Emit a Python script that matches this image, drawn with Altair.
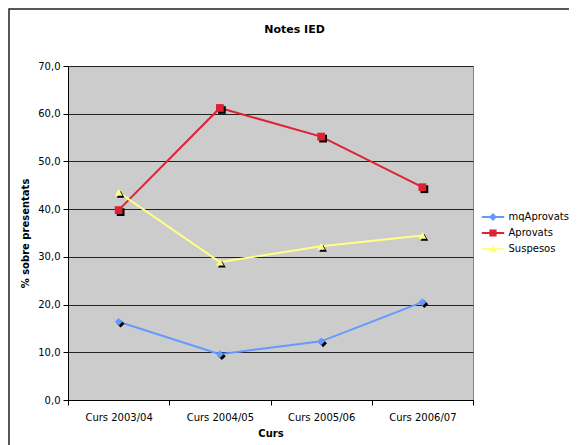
import altair as alt
import pandas as pd

courses = ["Curs 2003/04", "Curs 2004/05", "Curs 2005/06", "Curs 2006/07"]
series = ["mqAprovats", "Aprovats", "Suspesos"]
mq_aprovats = [16.4, 9.6, 12.3, 20.5]
aprovats = [39.8, 61.2, 55.2, 44.6]
suspesos = [43.5, 28.9, 32.2, 34.5]
colors = ["#6699FF", "#DD2233", "#FFFF88"]
shapes = ["diamond", "square", "triangle-up"]

rows = []
for name, vals in zip(series, [mq_aprovats, aprovats, suspesos]):
    for c, v in zip(courses, vals):
        rows.append({"Curs": c, "serie": name, "valor": v})
df = pd.DataFrame(rows)

# legend symbols: a short line with a marker on it
leg_paths = [
    "M-1.4,-0.12H1.4V0.12H-1.4Z M0,-0.5L0.5,0L0,0.5L-0.5,0Z",
    "M-1.4,-0.12H1.4V0.12H-1.4Z M-0.45,-0.45H0.45V0.45H-0.45Z",
    "M-1.4,-0.12H1.4V0.12H-1.4Z M0,-0.5L0.5,0.4H-0.5Z",
]

x_enc = alt.X(
    "Curs:N", sort=courses, bandPosition=0.5,
    scale=alt.Scale(type="band", paddingInner=0, paddingOuter=0),
    axis=alt.Axis(title="Curs", labelAngle=0, tickBand="extent", tickSize=5,
                  labelPadding=7, titlePadding=6, grid=False),
)
y_enc = alt.Y(
    "valor:Q",
    scale=alt.Scale(domain=[0, 70], nice=False),
    axis=alt.Axis(title="% sobre presentats", values=list(range(0, 71, 10)),
                  format=".1f", labelExpr="replace(datum.label, '.', ',')",
                  tickSize=5, labelPadding=3, titlePadding=7,
                  gridColor="#222222", gridWidth=1),
)

base = alt.Chart(df)

layers = []
for name, col in zip(series, colors):
    sub = base.transform_filter(alt.datum.serie == name)
    layers.append(sub.mark_line(strokeWidth=2, color=col).encode(x=x_enc, y=y_enc))
for name, col, shp in zip(series, colors, shapes):
    sub = base.transform_filter(alt.datum.serie == name)
    layers.append(sub.mark_point(filled=True, size=60, opacity=1, color="black",
                                 shape=shp, xOffset=2, yOffset=2).encode(x=x_enc, y=y_enc))
    layers.append(sub.mark_point(filled=True, size=60, opacity=1, color=col,
                                 shape=shp).encode(x=x_enc, y=y_enc))

leg = alt.Legend(title=None, orient="none", legendX=417, legendY=143,
                 symbolSize=256, symbolStrokeWidth=0, symbolOpacity=1,
                 labelFontSize=10, labelFont="DejaVu Sans", rowPadding=3,
                 labelOffset=7.5)
legend_layer = base.mark_point(filled=True, opacity=1).encode(
    x=alt.value(-2000), y=alt.value(100),
    color=alt.Color("serie:N", scale=alt.Scale(domain=series, range=colors),
                    sort=series, legend=leg),
    shape=alt.Shape("serie:N", scale=alt.Scale(domain=series, range=leg_paths),
                    sort=series, legend=leg),
)
layers.append(legend_layer)

border = alt.Chart(pd.DataFrame({"a": [0]})).mark_rect(
    fillOpacity=0, stroke="#222222", strokeWidth=1.5
).encode(x=alt.value(-59), x2=alt.value(700), y=alt.value(-57), y2=alt.value(600))
layers.append(border)

chart = alt.layer(*layers).properties(
    width=405, height=334,
    autosize=alt.AutoSizeParams(type="none"),
    padding={"left": 60, "top": 58, "right": 96, "bottom": 45},
    title=alt.Title("Notes IED", fontSize=11, fontWeight="bold", font="DejaVu Sans",
                    anchor="middle", dx=24, offset=-36, frame="group",
                    baseline="alphabetic"),
).configure(
    background="white"
).configure_view(
    fill="#CCCCCC", stroke="#808080", strokeWidth=1
).configure_axis(
    labelFont="DejaVu Sans", labelFontSize=10, labelColor="black",
    titleFont="DejaVu Sans", titleFontSize=10, titleFontWeight="bold", titleColor="black",
    domainColor="black", tickColor="black", domainWidth=1,
)

chart.save("out.html", embed_options={"renderer": "svg", "actions": False})
